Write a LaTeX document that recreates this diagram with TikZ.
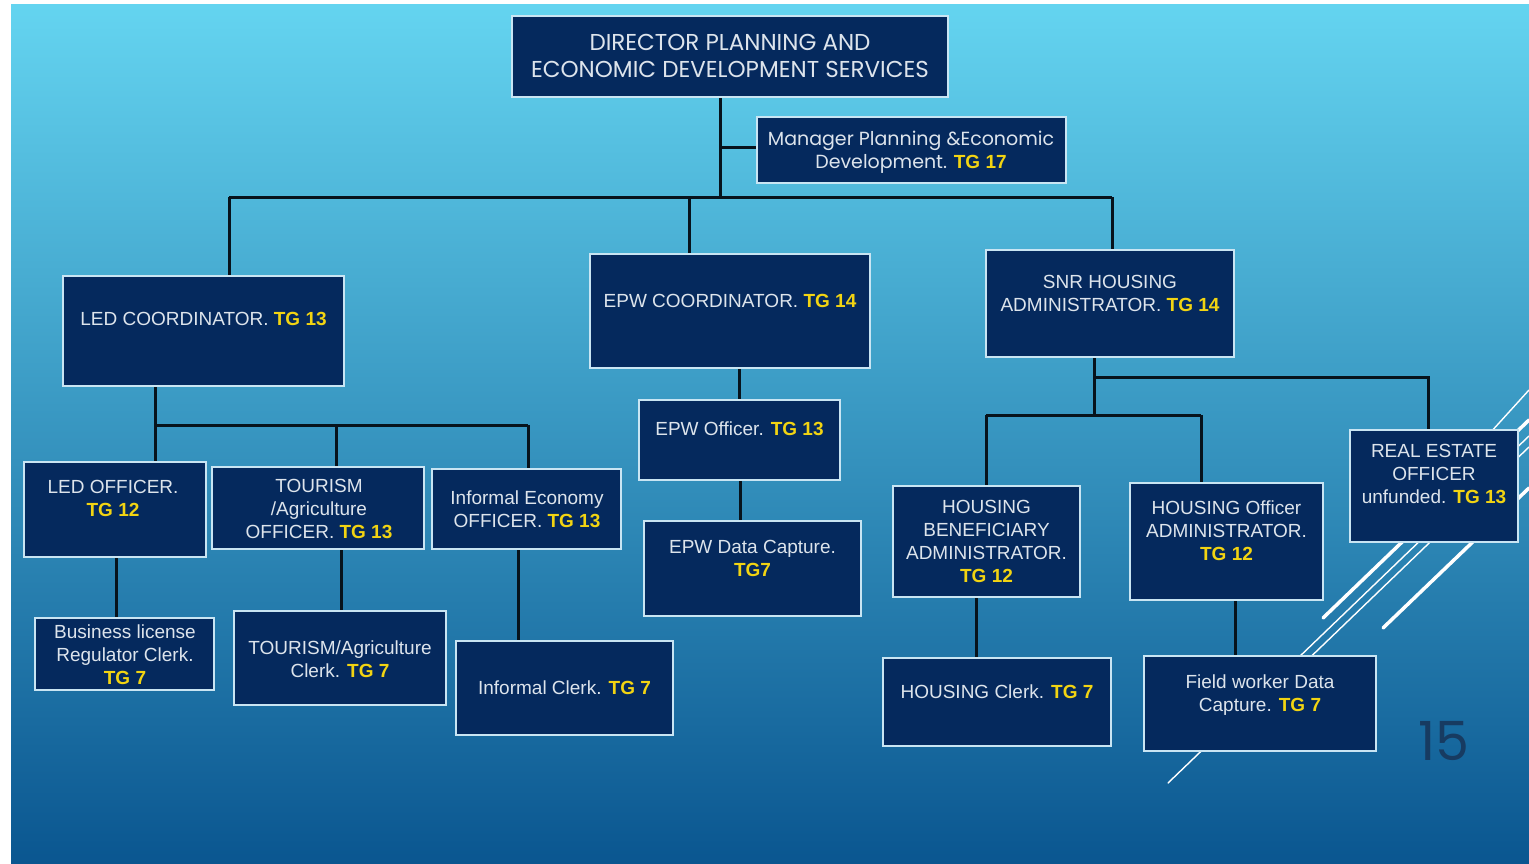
\documentclass[tikz,border=0pt]{standalone}
\usepackage{fontspec}
\setmainfont{Liberation Sans}
\newfontfamily\gothicfont{Poppins}
\newfontfamily\tgfont{Liberation Sans}
\usetikzlibrary{calc}
\definecolor{bgtop}{HTML}{64D4F0}
\definecolor{bgmid}{HTML}{42ACDA}
\definecolor{bgbot}{HTML}{0A5690}
\definecolor{boxfill}{HTML}{05295D}
\definecolor{boxline}{HTML}{C9E5F3}
\definecolor{txtc}{HTML}{DDE4EC}
\definecolor{tgy}{HTML}{F2D412}
\definecolor{conn}{HTML}{07131C}
\definecolor{numc}{HTML}{173B61}
\newcommand\ytg[1]{{\tgfont\bfseries\color{tgy}#1}}
\begin{document}
\begin{tikzpicture}[x=1pt,y=-1pt,
  orgbox/.style={draw=boxline, line width=2.2pt, fill=boxfill, rectangle, inner sep=0pt},
  boxtext/.style={text=txtc, align=center, font=\fontsize{19}{23}\selectfont, inner sep=0pt},
  gothictext/.style={text=txtc, align=center, inner sep=0pt},
  link/.style={draw=conn, line width=3pt},
  thindeco/.style={draw=white, line width=1.4pt, line cap=round},
  thickdeco/.style={draw=white, line width=3.5pt, line cap=round},
]
\useasboundingbox (0,0) rectangle (1529,864);
\fill[white] (0,0) rectangle (1529,864);
\shade[top color=bgtop, middle color=bgmid, bottom color=bgbot] (11,5) rectangle (1529,864);

% decorative lines
\draw[thindeco] (1168,783) -- (1529,436);
\draw[thindeco] (1271,695) -- (1529,447);
\draw[thickdeco] (1323,618) -- (1529,420);
\draw[thickdeco] (1383,628) -- (1529,488);
\draw[thindeco] (1470,455) -- (1529,390);

% boxes
\node[orgbox, minimum width=436pt, minimum height=81pt] (dir) at (730,56.5) {};
\node[orgbox, minimum width=309pt, minimum height=66pt] (mgr) at (911.5,150) {};
\node[orgbox, minimum width=281pt, minimum height=110pt] (ledc) at (203.5,331) {};
\node[orgbox, minimum width=280pt, minimum height=114pt] (epwc) at (730,311) {};
\node[orgbox, minimum width=248pt, minimum height=107pt] (snr) at (1110,303.5) {};
\node[orgbox, minimum width=182pt, minimum height=95pt] (ledo) at (115,509.5) {};
\node[orgbox, minimum width=212pt, minimum height=82pt] (touro) at (318,508) {};
\node[orgbox, minimum width=189pt, minimum height=80pt] (infe) at (526.5,509) {};
\node[orgbox, minimum width=179pt, minimum height=72pt] (bus) at (124.5,654) {};
\node[orgbox, minimum width=212pt, minimum height=94pt] (tourc) at (340,658) {};
\node[orgbox, minimum width=217pt, minimum height=94pt] (infc) at (564.5,688) {};
\node[orgbox, minimum width=201pt, minimum height=80pt] (epwo) at (739.5,440) {};
\node[orgbox, minimum width=217pt, minimum height=95pt] (epwd) at (752.5,568.5) {};
\node[orgbox, minimum width=168pt, minimum height=112pt] (reo) at (1434,486) {};
\node[orgbox, minimum width=187pt, minimum height=111pt] (hben) at (986.5,541.5) {};
\node[orgbox, minimum width=193pt, minimum height=117pt] (hoff) at (1226.5,541.5) {};
\node[orgbox, minimum width=228pt, minimum height=88pt] (hcl) at (997,702) {};
\node[orgbox, minimum width=232pt, minimum height=95pt] (fw) at (1260,703.5) {};

% texts
\node[gothictext, font=\gothicfont\fontsize{23}{27}\selectfont] (dirt) at (730,59) {\strut DIRECTOR PLANNING AND\\\strut ECONOMIC DEVELOPMENT SERVICES};
\node[gothictext, font=\gothicfont\fontsize{19}{23}\selectfont] (mgrt) at (911,152.5) {\strut Manager Planning \&Economic\\\strut Development. \ytg{TG 17}};
\node[boxtext] (ledct) at (203.5,321) {\strut LED COORDINATOR. \ytg{TG 13}};
\node[boxtext] (epwct) at (730,303) {\strut EPW COORDINATOR. \ytg{TG 14}};
\node[boxtext] (snrt) at (1110,295.5) {\strut SNR HOUSING\\\strut ADMINISTRATOR. \ytg{TG 14}};
\node[boxtext] (ledot) at (113,500.5) {\strut LED OFFICER.\\\strut\ytg{TG 12}};
\node[boxtext] (tourot) at (319,510.7) {\strut TOURISM\\\strut /Agriculture\\\strut OFFICER. \ytg{TG 13}};
\node[boxtext] (infet) at (527,511.5) {\strut Informal Economy\\\strut OFFICER. \ytg{TG 13}};
\node[boxtext] (bust) at (125,656.7) {\strut Business license\\\strut Regulator Clerk.\\\strut\ytg{TG 7}};
\node[boxtext] (tourct) at (340,661.5) {\strut TOURISM/Agriculture\\\strut Clerk. \ytg{TG 7}};
\node[boxtext] (infct) at (564.5,690) {\strut Informal Clerk. \ytg{TG 7}};
\node[boxtext] (epwot) at (739.5,431) {\strut EPW Officer. \ytg{TG 13}};
\node[boxtext] (epwdt) at (752.5,560.5) {\strut EPW Data Capture.\\\strut\ytg{TG7}};
\node[boxtext] (reot) at (1434,476) {\strut REAL ESTATE\\\strut OFFICER\\\strut unfunded. \ytg{TG 13}};
\node[boxtext] (hbent) at (986.5,543.5) {\strut HOUSING\\\strut BENEFICIARY\\\strut ADMINISTRATOR.\\\strut\ytg{TG 12}};
\node[boxtext] (hofft) at (1226.5,533) {\strut HOUSING Officer\\\strut ADMINISTRATOR.\\\strut\ytg{TG 12}};
\node[boxtext] (hclt) at (997,694) {\strut HOUSING Clerk. \ytg{TG 7}};
\node[boxtext] (fwt) at (1260,695.5) {\strut Field worker Data\\\strut Capture. \ytg{TG 7}};

\node[text=numc, font=\gothicfont\fontsize{54}{54}\selectfont, inner sep=0pt] (pagenum) at (1444,741) {15};

% junction coordinates
\coordinate (trunk) at (720,197);
\coordinate (jm) at (720,148);
\coordinate (bl) at (229,197);
\coordinate (be) at (689,197);
\coordinate (br) at (1112,197);
\coordinate (la) at (155,425);
\coordinate (lb) at (336,425);
\coordinate (lc) at (528,425);
\coordinate (xbus) at (116,0);
\coordinate (xtour) at (341,0);
\coordinate (xinf) at (518,0);
\coordinate (xepw) at (739,0);
\coordinate (xepwd) at (740,0);
\coordinate (sa) at (1094,415);
\coordinate (sr) at (1094,377);
\coordinate (srr) at (1428,377);
\coordinate (sb) at (986,415);
\coordinate (sc) at (1201,415);
\coordinate (xhcl) at (976,0);
\coordinate (xfw) at (1235,0);

% connectors
\draw[link] (dir.south -| trunk) -- (trunk);
\draw[link] (jm) -- (jm -| mgr.west);
\draw[link] (bl) -- (br);
\draw[link] (bl) -- (bl |- ledc.north);
\draw[link] (be) -- (be |- epwc.north);
\draw[link] (br) -- (br |- snr.north);
\draw[link] (ledc.south -| la) -- (la) -- (lc);
\draw[link] (la) -- (la |- ledo.north);
\draw[link] (lb) -- (lb |- touro.north);
\draw[link] (lc) -- (lc |- infe.north);
\draw[link] (ledo.south -| xbus) -- (bus.north -| xbus);
\draw[link] (touro.south -| xtour) -- (tourc.north -| xtour);
\draw[link] (infe.south -| xinf) -- (infc.north -| xinf);
\draw[link] (epwc.south -| xepw) -- (epwo.north -| xepw);
\draw[link] (epwo.south -| xepwd) -- (epwd.north -| xepwd);
\draw[link] (snr.south -| sa) -- (sa);
\draw[link] (sr) -- (srr) -- (srr |- reo.north);
\draw[link] (sb) -- (sc);
\draw[link] (sb) -- (sb |- hben.north);
\draw[link] (sc) -- (sc |- hoff.north);
\draw[link] (hben.south -| xhcl) -- (hcl.north -| xhcl);
\draw[link] (hoff.south -| xfw) -- (fw.north -| xfw);
\end{tikzpicture}
\end{document}
